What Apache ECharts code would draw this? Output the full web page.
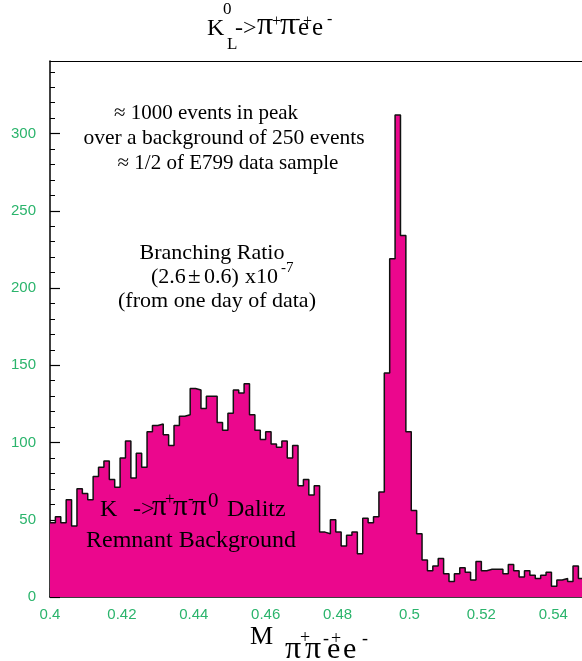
<!DOCTYPE html>
<html>
<head>
<meta charset="utf-8">
<script src="https://cdn.jsdelivr.net/npm/echarts@6/dist/echarts.min.js"></script>
<style>
html,body{margin:0;padding:0;background:#fff;}
#chart{width:582px;height:661px;}
</style>
</head>
<body>
<div id="chart"></div>
<script>
// ---- data ----
const binLow = 0.4;          // left edge of first bin
const binWidth = 0.0015;     // histogram bin width
const counts = [
  48, 52, 48, 63, 46, 70, 67, 63, 78, 84,
  88, 76, 71, 90, 101, 77, 93, 84, 107, 111,
  112, 105, 98, 111, 117, 118, 135, 134, 122, 130,
  130, 113, 108, 119, 134, 132, 138, 118, 108, 102,
  107, 99, 97, 101, 90, 98, 72, 76, 66, 72,
  42, 41, 50, 42, 33, 40, 42, 28, 51, 48,
  52, 68, 145, 219, 312, 234, 107, 56, 41, 24,
  17, 20, 25, 15, 10, 15, 19, 16, 11, 23,
  17, 18, 18, 18, 15, 21, 17, 13, 17, 14,
  12, 14, 16, 7, 11, 12, 10, 20, 12
];
const xTickLabels = ['0.4', '0.42', '0.44', '0.46', '0.48', '0.5', '0.52', '0.54'];
const yTickLabels = ['0', '50', '100', '150', '200', '250', '300'];

// step points at bin edges
const stepData = counts.map((c, i) => [+(binLow + i * binWidth).toFixed(5), c]);
stepData.push([+(binLow + counts.length * binWidth).toFixed(5), counts[counts.length - 1]]);

const green = '#2bb46c';
const serif = '"Liberation Serif", "Times New Roman", serif';
function T(str, x, baseline, size, align) {
  return {
    type: 'text', x: x, y: baseline - 0.32 * size, silent: true, z: 100, zlevel: 0,
    style: { text: str, font: size + 'px ' + serif, fill: '#000',
             align: align || 'left', verticalAlign: 'middle' }
  };
}

const chart = echarts.init(document.getElementById('chart'), null, {renderer: 'canvas'});
const axisLabelFont = { color: green, fontFamily: '"Liberation Sans", Arial, sans-serif', fontSize: 15 };
chart.setOption({
  animation: false,
  backgroundColor: '#fff',
  grid: { left: 50, top: 61, right: 0, bottom: 64, containLabel: false },
  xAxis: [
    { type: 'value', min: 0.4, max: 0.548, interval: 0.02, position: 'bottom',
      axisLine: { show: true, onZero: false, lineStyle: { color: '#000', width: 1.5 } },
      axisTick: { show: true, inside: true, length: 9, lineStyle: { color: '#000', width: 1.2 } },
      axisLabel: { show: true, margin: 10, showMaxLabel: false, ...axisLabelFont,
        formatter: v => { const s = xTickLabels.find(t => Math.abs(+t - v) < 1e-6); return s || ''; } },
      splitLine: { show: false } },
    { type: 'value', min: 0.4, max: 0.548, interval: 0.005, position: 'bottom',
      axisLine: { show: false, onZero: false },
      axisTick: { show: true, inside: true, length: 5, lineStyle: { color: '#000', width: 1 } },
      axisLabel: { show: false }, splitLine: { show: false } },
    { type: 'value', min: 0.4, max: 0.548, position: 'top',
      axisLine: { show: true, onZero: false, lineStyle: { color: '#000', width: 1.2 } },
      axisTick: { show: false }, axisLabel: { show: false }, splitLine: { show: false } }
  ],
  yAxis: [
    { type: 'value', min: 0, max: 347, interval: 50, position: 'left',
      axisLine: { show: true, onZero: false, lineStyle: { color: '#000', width: 1.5 } },
      axisTick: { show: true, inside: true, length: 10, lineStyle: { color: '#000', width: 1.2 } },
      axisLabel: { show: true, margin: 14, showMaxLabel: false, ...axisLabelFont,
        formatter: v => { const s = yTickLabels.find(t => Math.abs(+t - v) < 1e-6); return s || ''; } },
      splitLine: { show: false } },
    { type: 'value', min: 0, max: 347, interval: 10, position: 'left',
      axisLine: { show: false, onZero: false },
      axisTick: { show: true, inside: true, length: 5, lineStyle: { color: '#000', width: 1 } },
      axisLabel: { show: false }, splitLine: { show: false } }
  ],
  series: [{
    type: 'line', xAxisIndex: 0, yAxisIndex: 0, z: 2,
    data: stepData, step: 'end', symbol: 'none', clip: true,
    lineStyle: { color: '#111', width: 1.5 },
    areaStyle: { color: '#EB078D', opacity: 1, origin: 'start' }
  }],
  graphic: {
    elements: [
      // title  K_L^0 -> pi+ pi- e+ e-
      T('K', 207, 36, 24), T('0', 223, 15, 17), T('L', 227, 50, 17),
      T('->', 235, 36, 24), T('π', 257, 36, 32), T('+', 272, 27, 16),
      T('π', 280, 36, 32), T('-', 295, 25, 16), T('e', 298, 36, 25),
      T('+', 303, 27, 16), T('e', 312, 36, 25), T('-', 327, 25, 16),
      // annotations
      T('≈ 1000 events in peak', 206, 120, 21, 'center'),
      T('over a background of 250 events', 224, 145, 21.5, 'center'),
      T('≈ 1/2 of E799 data sample', 228, 170, 21, 'center'),
      T('Branching Ratio', 212, 260, 22, 'center'),
      T('(2.6', 151, 284, 22), T('±', 188, 284, 23), T('0.6)', 204, 284, 22),
      T('x10', 245, 284, 22), T('-7', 281, 273, 15),
      T('(from one day of data)', 217, 308, 22, 'center'),
      // background label
      T('K', 100, 517, 24), T('->', 133, 517, 24), T('π', 152, 517, 29),
      T('+', 165, 505, 17), T('π', 173, 517, 29), T('-', 188, 505, 17),
      T('π', 192, 517, 29), T('0', 208, 508, 21), T('Dalitz', 227, 517, 24),
      T('Remnant Background', 86, 548, 24),
      // x axis title  M_{pi+ pi- e+ e-}
      T('M', 250, 645, 26),
      T('π', 285, 660, 32), T('+', 300, 644, 18), T('π', 305, 660, 32),
      T('-', 323, 645, 18), T('e', 327, 660, 30), T('+', 331, 645, 18),
      T('e', 343, 660, 30), T('-', 362, 645, 18)
    ]
  }
});
</script>
</body>
</html>
